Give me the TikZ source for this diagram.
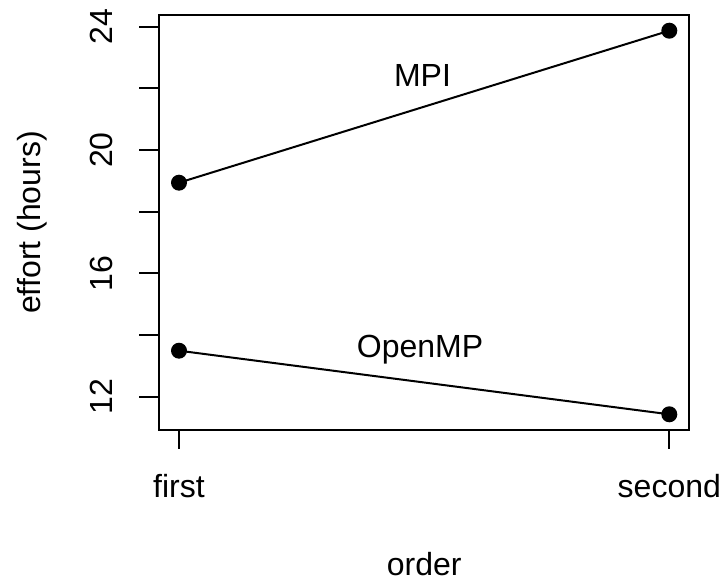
\documentclass[tikz,border=0pt]{standalone}
\usepackage{fontspec}
\setmainfont{Liberation Sans}
\begin{document}
\begin{tikzpicture}[x=0.5bp,y=-0.5bp,
  txt/.style={inner sep=0pt,anchor=base,font=\fontsize{16bp}{19bp}\selectfont},
  pt/.style={circle,fill=black,inner sep=0pt,minimum size=8bp},
  axis/.style={line width=1bp},
  series/.style={line width=1bp}]
\useasboundingbox (0,0) rectangle (726,585);
% plot frame
\draw[axis] (159.3,15) rectangle (689.3,430);
% y axis ticks: y(v) = 396.7 - 30.83*(v-12)
\foreach \v/\lab in {12/12,14/,16/16,18/,20/20,22/,24/24}{
  \pgfmathsetmacro{\yy}{396.7-30.83*(\v-12)}
  \draw[axis] (139.3,\yy) -- (159.3,\yy);
  \node[txt,rotate=90] at (112,\yy) {\lab};
}
% x axis ticks
\draw[axis] (179,430) -- (179,449);
\draw[axis] (669.3,430) -- (669.3,449);
\node[txt] (first) at (179,497.7) {first};
\node[txt] (second) at (669.3,497.7) {second};
% axis titles
\node[txt] (xlab) at (424.3,575) {order};
\node[txt,rotate=90] (ylab) at (40,222.5) {effort (hours)};
% data points
\node[pt] (mpi1) at (179,182.7) {};
\node[pt] (mpi2) at (669.3,30.7) {};
\node[pt] (omp1) at (179,350.7) {};
\node[pt] (omp2) at (669.3,414.3) {};
\draw[series] (mpi1.center) -- (mpi2.center);
\draw[series] (omp1.center) -- (omp2.center);
% series labels
\node[txt] (mpilab) at (422.5,86.7) {MPI};
\node[txt] (omplab) at (420,357.3) {OpenMP};
\end{tikzpicture}
\end{document}
